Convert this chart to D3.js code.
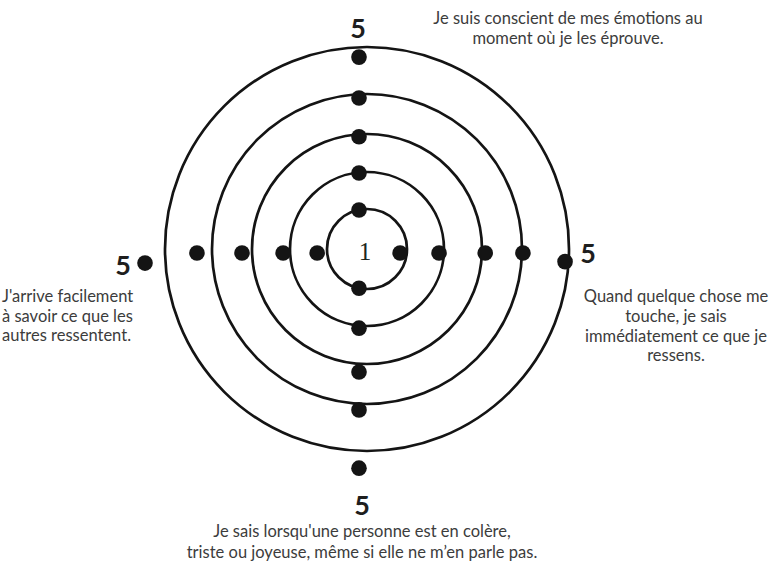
<!DOCTYPE html>
<html><head><meta charset="utf-8">
<script src="https://cdn.jsdelivr.net/npm/d3@7"></script>
<style>html,body{margin:0;padding:0;background:#fff;}svg{display:block;}</style>
</head><body>
<script>
// ---- data ----
const ringLevels = [1, 2, 3, 4, 5];
const axisNames = ["haut", "droite", "bas", "gauche"];
const statements = [
  ["Je suis conscient de mes émotions au", "moment où je les éprouve."],
  ["Quand quelque chose me", "touche, je sais", "immédiatement ce que je", "ressens."],
  ["Je sais lorsqu'une personne est en colère,", "triste ou joyeuse, même si elle ne m’en parle pas."],
  ["J'arrive facilement", "à savoir ce que les", "autres ressentent."]
];
const dotsHaut   = [1.08, 2.08, 3.03, 4.00, 4.87];
const dotsDroite = [1.03, 2.08, 3.28, 4.19, 5.09];
const dotsBas    = [0.88, 1.95, 3.10, 4.04, 5.28];
const dotsGauche = [1.05, 1.97, 3.05, 4.15, 5.26];
const tiltDroite = [0, 0, 0, 0, 2.4];   // degrees, as drawn
const tiltGauche = [0, 0, 0, 0, -2.7];
const centerLabel = "1";
const maxLabel = "5";

// ---- layout ----
const W = 776, H = 561;
const ringCx = 367, ringCy = 249;
const dotCx = 359, dotCy = 253;
const svg = d3.select("body").append("svg").attr("width", W).attr("height", H);

const r = d3.scaleLinear().domain([0, 1, 2, 3, 4, 5]).range([0, 40, 77, 115, 155, 202]);
const angleScale = d3.scaleOrdinal().domain(axisNames).range([-90, 0, 90, 180]);

svg.append("g").selectAll("circle").data(ringLevels).join("circle")
  .attr("cx", ringCx).attr("cy", ringCy).attr("r", d => r(d))
  .attr("fill", "none").attr("stroke", "#141414").attr("stroke-width", 2.7);

const dotSeries = [
  {axis: "haut", vals: dotsHaut, tilt: [0,0,0,0,0]},
  {axis: "droite", vals: dotsDroite, tilt: tiltDroite},
  {axis: "bas", vals: dotsBas, tilt: [0,0,0,0,0]},
  {axis: "gauche", vals: dotsGauche, tilt: tiltGauche}
];
const dots = [];
dotSeries.forEach(s => s.vals.forEach((v, i) => {
  const a = (angleScale(s.axis) + s.tilt[i]) * Math.PI / 180;
  dots.push({x: dotCx + r(v) * Math.cos(a), y: dotCy + r(v) * Math.sin(a)});
}));
svg.append("g").selectAll("circle").data(dots).join("circle")
  .attr("cx", d => d.x).attr("cy", d => d.y).attr("r", 7.8).attr("fill", "#141414");

// numbers
svg.append("text").attr("x", 365).attr("y", 260).attr("text-anchor", "middle")
  .attr("font-family", "'Liberation Serif', serif").attr("font-size", 25).attr("fill", "#1c261c").text(centerLabel);
const fivePos = [[358, 38], [588, 263], [362, 515], [123, 275]];
svg.append("g").selectAll("text").data(fivePos).join("text")
  .attr("x", d => d[0]).attr("y", d => d[1]).attr("text-anchor", "middle")
  .attr("font-family", "Lato, sans-serif").attr("font-weight", 700).attr("font-size", 27)
  .attr("fill", "#1e1e1e").text(maxLabel);

// statements
const txtFont = "Lato, sans-serif";
function block(lines, x, y0, dy, anchor) {
  const t = svg.append("text").attr("font-family", txtFont).attr("font-size", 16.5)
    .attr("fill", "#3c3c3c").attr("text-anchor", anchor);
  t.selectAll("tspan").data(lines).join("tspan")
    .attr("x", x).attr("y", (d, i) => y0 + i * dy).text(d => d);
}
block(statements[0], 568, 24, 19.5, "middle");
block(statements[1], 676, 302, 19.8, "middle");
block(statements[2], 362, 537, 20.5, "middle");
block(statements[3], 2, 302, 19.6, "start");
</script>
</body></html>
